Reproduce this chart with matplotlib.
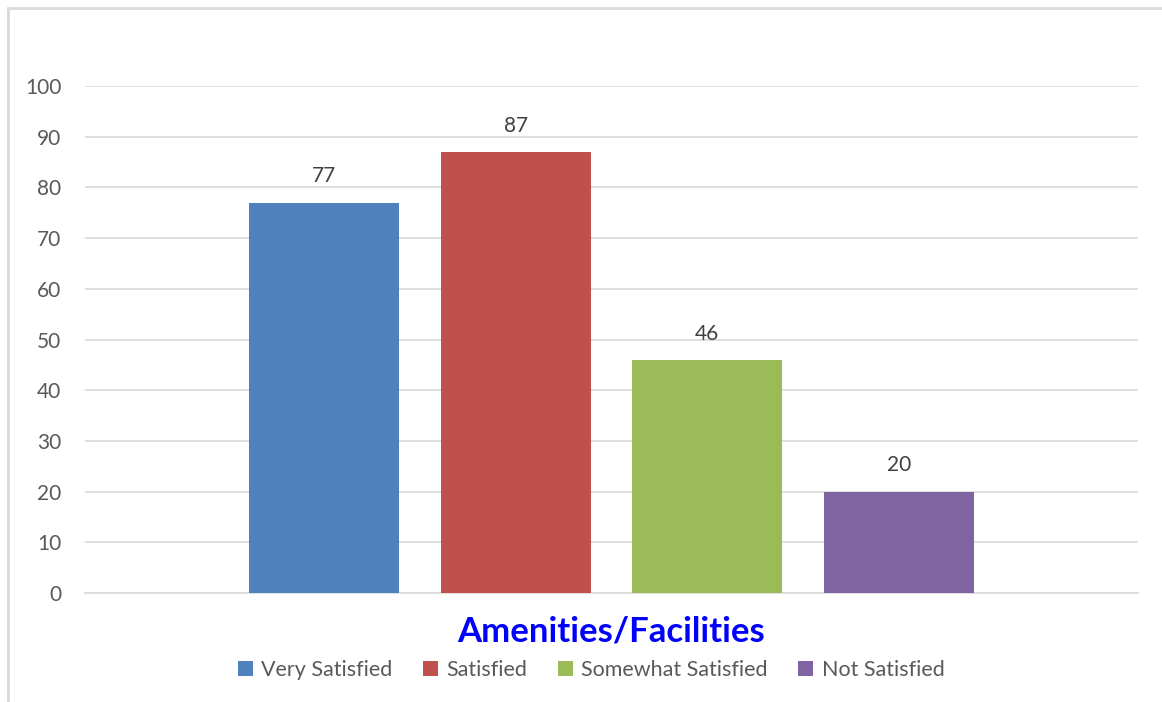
import matplotlib
matplotlib.use("Agg")
import matplotlib.pyplot as plt
from matplotlib.patches import Rectangle, Patch

categories = ["Very Satisfied", "Satisfied", "Somewhat Satisfied", "Not Satisfied"]
values = [77, 87, 46, 20]
colors = ["#4F81BD", "#C0504D", "#9BBB59", "#8064A2"]
group_label = "Amenities/Facilities"
yticks = list(range(0, 101, 10))

W, H = 1162, 702
fig = plt.figure(figsize=(W / 100, H / 100), dpi=100)
plt.rcParams['font.family'] = ['Lato', 'DejaVu Sans']

# frame
fig.patches.append(Rectangle((8 / W, -0.1), 1.2, 1 - 8 / H + 0.1, transform=fig.transFigure,
                             fill=False, edgecolor="#D9D9D9", linewidth=2))

ax = fig.add_axes([85 / W, 1 - 593 / H, (1138 - 85) / W, (593 - 86) / H])
step = 191.5 / 1053
width = 150 / 1053
for i, (c, v, col) in enumerate(zip(categories, values, colors)):
    x = (i - 1.5) * step
    ax.bar(x, v, width=width, color=col, label=c, zorder=3)
    ax.text(x, v + 3.2, str(v), ha="center", va="bottom", fontsize=15, color="#404040")

ax.set_xlim(-0.5, 0.5)
ax.set_ylim(0, 100)
ax.set_yticks(yticks)
ax.set_yticklabels([str(t) for t in yticks], fontsize=15, color="#595959")
ax.tick_params(axis="y", length=0, pad=17)
ax.set_xticks([0])
ax.set_xticklabels([group_label], fontsize=25, fontweight="bold", color="#0000FF")
ax.tick_params(axis="x", length=0, pad=16)
ax.grid(axis="y", color="#D9D9D9", linewidth=1.2, zorder=0)
for s in ["top", "right", "left"]:
    ax.spines[s].set_visible(False)
ax.spines["bottom"].set_color("#D9D9D9")
ax.spines["bottom"].set_linewidth(1.2)

handles = [Patch(facecolor=c, label=l) for c, l in zip(colors, categories)]
fig.legend(handles=handles, loc="center", bbox_to_anchor=(591 / W, 1 - 670 / H), ncol=4,
           frameon=False, fontsize=15.5, labelcolor="#595959", handlelength=0.7, handleheight=0.7,
           handletextpad=0.4, columnspacing=1.4)

fig.savefig("out.png", dpi=100)
